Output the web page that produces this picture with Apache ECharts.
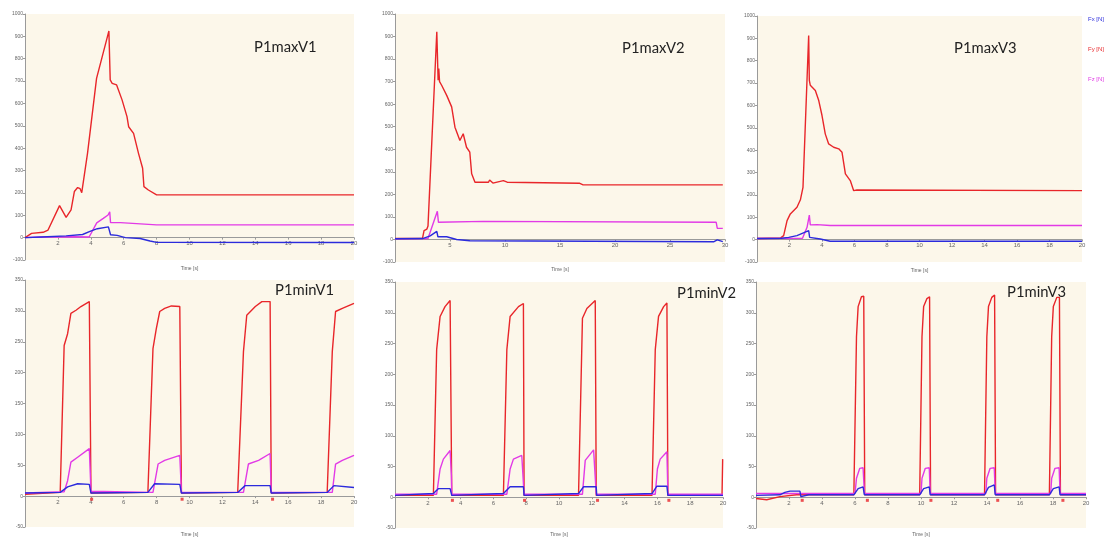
<!DOCTYPE html>
<html>
<head>
<meta charset="utf-8">
<script src="https://cdn.jsdelivr.net/npm/echarts@6/dist/echarts.min.js"></script>
<style>
  html, body { margin: 0; padding: 0; background: #ffffff; }
  #chart { width: 1105px; height: 538px; }
</style>
</head>
<body>
<div id="chart"></div>
<script>
// ---------- DATA (time [s], force [N]) ----------
const seriesNames = ['Fx [N]', 'Fy [N]', 'Fz [N]'];
const panelTitles = ['P1maxV1', 'P1maxV2', 'P1maxV3', 'P1minV1', 'P1minV2', 'P1minV3'];

// P1maxV1
const p1maxV1_Fx = [[0,0],[1,3],[2.5,8],[3.5,14],[3.95,28],[4.4,40],[5.07,48],[5.15,45],[5.2,13],[5.6,10],[6.1,0],[7,-4],[7.6,-15],[8,-21],[20,-22]];
const p1maxV1_Fy = [[0,0],[0.4,19],[1.1,24],[1.4,34],[2.1,143],[2.5,91],[2.8,124],[3.0,206],[3.2,224],[3.35,219],[3.45,201],[3.8,377],[4.35,712],[4.96,884],[5.1,924],[5.18,705],[5.3,690],[5.57,683],[5.9,616],[6.2,541],[6.3,496],[6.6,466],[6.9,377],[7.15,310],[7.23,228],[7.5,213],[8.0,191],[20,191]];
const p1maxV1_Fz = [[0,0],[1,3],[3,4],[3.9,3],[4.0,10],[4.36,66],[4.76,86],[5.05,101],[5.15,116],[5.2,67],[5.8,67],[8,57],[20,57]];

// P1maxV2
const p1maxV2_Fx = [[0,3],[2.5,4],[3.2,16],[3.8,36],[3.9,12],[4.7,12],[5.6,0],[6.8,-6],[29,-10],[29.3,-2],[29.8,-10]];
const p1maxV2_Fy = [[0,4],[2.5,5],[2.6,6],[2.64,39],[2.9,46],[3.0,60],[3.8,921],[3.92,706],[3.98,758],[4.05,700],[4.24,684],[4.7,639],[5.15,588],[5.45,498],[5.9,439],[6.2,469],[6.5,409],[6.8,387],[6.97,291],[7.27,254],[8.5,254],[8.6,264],[8.9,250],[9.85,261],[10.2,254],[16.8,249],[17.1,242],[29.8,242]];
const p1maxV2_Fz = [[0,3],[3.0,4],[3.6,90],[3.85,125],[3.95,76],[4.1,83],[8,80],[29.2,76],[29.3,49],[29.8,49]];

// P1maxV3
const p1maxV3_Fx = [[0,5],[1.5,6],[1.95,10],[2.46,18],[3.18,40],[3.24,10],[3.9,3],[4.5,-7],[20,-7]];
const p1maxV3_Fy = [[0,5],[1.44,7],[1.64,18],[1.85,85],[2.05,115],[2.46,145],[2.67,178],[2.83,234],[3.18,913],[3.22,712],[3.28,690],[3.59,667],[3.8,622],[4.0,555],[4.2,473],[4.41,428],[4.72,413],[5.03,406],[5.23,391],[5.44,294],[5.74,264],[5.95,219],[6.15,222],[20,219]];
const p1maxV3_Fz = [[0,5],[2.8,6],[3.08,55],[3.22,110],[3.28,66],[3.69,67],[4.5,63],[20,63]];

// P1minV1
const p1minV1_Fx = [[0,5],[2.14,6],[2.59,15],[3.2,20],[3.91,19],[4.01,5],[7.47,6],[7.88,20],[9.41,19],[9.51,5],[12.93,6],[13.38,17],[14.9,17],[14.97,5],[18.37,6],[18.78,17],[20,14]];
const p1minV1_Fy = [[0,3],[2.14,6],[2.38,244],[2.59,263],[2.79,296],[3.1,301],[3.4,307],[3.91,315],[3.97,315],[4.01,5],[7.47,6],[7.78,239],[7.98,271],[8.19,299],[8.49,304],[8.9,308],[9.41,307],[9.51,5],[12.93,6],[13.28,234],[13.48,293],[14.0,307],[14.4,315],[14.9,315],[14.97,5],[18.37,6],[18.68,234],[18.88,299],[19.29,304],[20,312]];
const p1minV1_Fz = [[0,5],[2.38,7],[2.59,25],[2.79,55],[3.2,63],[3.91,77],[4.01,8],[7.78,6],[8.09,52],[8.49,58],[9.41,66],[9.51,6],[13.28,6],[13.58,52],[14.2,58],[14.9,69],[14.97,6],[18.68,6],[18.88,52],[19.29,58],[20,66]];
const p1minV1_marks = [4.05, 9.55, 15.05];

// P1minV2
const p1minV2_Fx = [[0,3],[2.34,6],[2.64,14],[3.36,14],[3.46,3],[6.61,6],[7.02,17],[7.83,17],[7.87,3],[11.19,6],[11.5,17],[12.27,17],[12.3,3],[15.67,6],[15.97,18],[16.58,18],[16.64,3],[20,3]];
const p1minV2_Fy = [[0,3],[2.34,3],[2.54,240],[2.75,294],[3.05,310],[3.36,320],[3.42,323],[3.46,3],[6.61,3],[6.82,240],[7.02,294],[7.53,310],[7.83,315],[7.87,3],[11.19,3],[11.43,291],[11.7,307],[12.21,320],[12.27,3],[15.67,3],[15.87,240],[16.07,294],[16.38,310],[16.58,316],[16.64,3],[19.94,3],[19.98,62]];
const p1minV2_Fz = [[0,5],[2.54,5],[2.75,46],[2.95,62],[3.36,76],[3.44,35],[3.46,5],[6.82,5],[7.02,46],[7.22,62],[7.73,68],[7.87,5],[11.43,5],[11.6,60],[12.11,77],[12.27,5],[15.87,5],[16.0,46],[16.17,62],[16.58,74],[16.64,5],[20,5]];
const p1minV2_marks = [3.5, 7.9, 12.35, 16.7];

// P1minV3
const p1minV3_Fx = [[0,3],[1.45,4],[1.75,8],[2.06,10],[2.66,10],[2.72,1],[3.2,4],[5.93,4],[6.19,14],[6.49,17],[6.57,4],[9.92,4],[10.16,14],[10.5,17],[10.56,4],[13.85,4],[14.09,16],[14.44,20],[14.5,4],[17.78,4],[18.02,14],[18.37,17],[18.43,4],[20,4]];
const p1minV3_Fy = [[0,-2],[0.65,-4],[1.45,1],[2.46,4],[5.93,4],[6.09,261],[6.19,310],[6.39,326],[6.53,327],[6.59,4],[9.92,4],[10.06,261],[10.16,310],[10.36,323],[10.52,326],[10.58,4],[13.85,4],[13.99,261],[14.09,310],[14.29,325],[14.46,329],[14.52,4],[17.78,4],[17.92,261],[18.02,310],[18.23,325],[18.39,325],[18.45,4],[20,4]];
const p1minV3_Fz = [[0,6],[6.0,6],[6.09,31],[6.29,47],[6.49,48],[6.57,6],[10.0,6],[10.06,31],[10.26,47],[10.5,48],[10.56,6],[13.93,6],[13.99,31],[14.19,47],[14.44,48],[14.5,6],[17.86,6],[17.92,31],[18.12,47],[18.37,48],[18.43,6],[20,6]];
const p1minV3_marks = [2.8, 6.75, 10.6, 14.65, 18.6];

// axis ranges / ticks
const maxYRange = { min: -100, max: 1000, interval: 100 };
const minYRange = { min: -50, max: 350, interval: 50 };
const xRangeV1 = { min: 0, max: 20, interval: 2 };
const xRangeV2 = { min: 0, max: 30, interval: 5 };

// ---------- LAYOUT ----------
const panels = [
  { data: [p1maxV1_Fx, p1maxV1_Fy, p1maxV1_Fz], marks: [], y: maxYRange, x: xRangeV1,
    grid: { left: 25, top: 14, width: 329, height: 246 }, titlePos: { left: 254, top: 40 }, nameGap: 28 },
  { data: [p1maxV2_Fx, p1maxV2_Fy, p1maxV2_Fz], marks: [], y: maxYRange, x: xRangeV2,
    grid: { left: 395, top: 14, width: 330, height: 248 }, titlePos: { left: 622, top: 41 }, nameGap: 28 },
  { data: [p1maxV3_Fx, p1maxV3_Fy, p1maxV3_Fz], marks: [], y: maxYRange, x: xRangeV1,
    grid: { left: 757, top: 16, width: 325, height: 246 }, titlePos: { left: 954, top: 41 }, nameGap: 28 },
  { data: [p1minV1_Fx, p1minV1_Fy, p1minV1_Fz], marks: p1minV1_marks, y: minYRange, x: xRangeV1,
    grid: { left: 25, top: 280, width: 329, height: 247 }, titlePos: { left: 275, top: 283 }, nameGap: 36 },
  { data: [p1minV2_Fx, p1minV2_Fy, p1minV2_Fz], marks: p1minV2_marks, y: minYRange, x: xRangeV1,
    grid: { left: 395, top: 282, width: 328, height: 246 }, titlePos: { left: 677, top: 286 }, nameGap: 35 },
  { data: [p1minV3_Fx, p1minV3_Fy, p1minV3_Fz], marks: p1minV3_marks, y: minYRange, x: xRangeV1,
    grid: { left: 756, top: 282, width: 330, height: 246 }, titlePos: { left: 1007, top: 285 }, nameGap: 35 }
];

const colors = { 'Fx [N]': '#2b2bdc', 'Fy [N]': '#e8262a', 'Fz [N]': '#e23ae6' };
const bg = '#fcf7ea';
const axisColor = '#9a9a9a';
const labelColor = '#666666';

const grids = [], xAxes = [], yAxes = [], series = [], titles = [];
panels.forEach((p, i) => {
  grids.push(Object.assign({ show: true, backgroundColor: bg, borderWidth: 0, containLabel: false, outerBoundsMode: 'none' }, p.grid));
  // x axis drawn at the y = 0 level
  const zeroOffset = -p.grid.height * (0 - p.y.min) / (p.y.max - p.y.min);
  xAxes.push({
    type: 'value', gridIndex: i, min: p.x.min, max: p.x.max, interval: p.x.interval,
    position: 'bottom', offset: zeroOffset,
    name: 'Time [s]', nameLocation: 'middle', nameGap: p.nameGap,
    nameTextStyle: { fontSize: 5, color: labelColor },
    axisLine: { onZero: false, lineStyle: { color: axisColor, width: 1 } },
    axisTick: { show: true, length: 2, lineStyle: { color: axisColor } },
    axisLabel: { fontSize: 6, color: labelColor, margin: 3, showMinLabel: false },
    splitLine: { show: false }
  });
  yAxes.push({
    type: 'value', gridIndex: i, min: p.y.min, max: p.y.max, interval: p.y.interval,
    axisLine: { show: true, lineStyle: { color: axisColor, width: 1 } },
    axisTick: { show: true, length: 2, lineStyle: { color: axisColor } },
    axisLabel: { fontSize: 5, color: labelColor, margin: 2, formatter: v => String(v) },
    splitLine: { show: false }
  });
  titles.push({
    text: panelTitles[i], left: p.titlePos.left, top: p.titlePos.top, padding: 0,
    textStyle: { fontSize: 14.8, fontWeight: 'normal', color: '#222', fontFamily: 'Lato, sans-serif' }
  });
  // draw order: Fy, Fz, Fx
  [1, 2, 0].forEach(k => {
    const nm = seriesNames[k];
    series.push({
      name: nm, type: 'line', xAxisIndex: i, yAxisIndex: i,
      data: p.data[k], showSymbol: false, symbol: 'none',
      lineStyle: { color: colors[nm], width: 1.4 }, itemStyle: { color: colors[nm] },
      emphasis: { disabled: true }, silent: true
    });
  });
  if (p.marks.length) {
    series.push({
      name: 'events', type: 'scatter', xAxisIndex: i, yAxisIndex: i,
      data: p.marks.map(t => [t, -5]), symbol: 'rect', symbolSize: 3,
      itemStyle: { color: '#e8262a' }, silent: true
    });
  }
});

const chart = echarts.init(document.getElementById('chart'), null, { renderer: 'canvas' });
chart.setOption({
  animation: false,
  backgroundColor: '#ffffff',
  title: titles,
  legend: {
    orient: 'vertical', left: 1083, top: 16, padding: 0, icon: 'none', itemWidth: 0, itemHeight: 6, itemGap: 24,
    data: seriesNames.map(n => ({ name: n, textStyle: { color: colors[n], fontSize: 6 } })),
    textStyle: { fontSize: 6 }
  },
  grid: grids, xAxis: xAxes, yAxis: yAxes, series: series
});
</script>
</body>
</html>
